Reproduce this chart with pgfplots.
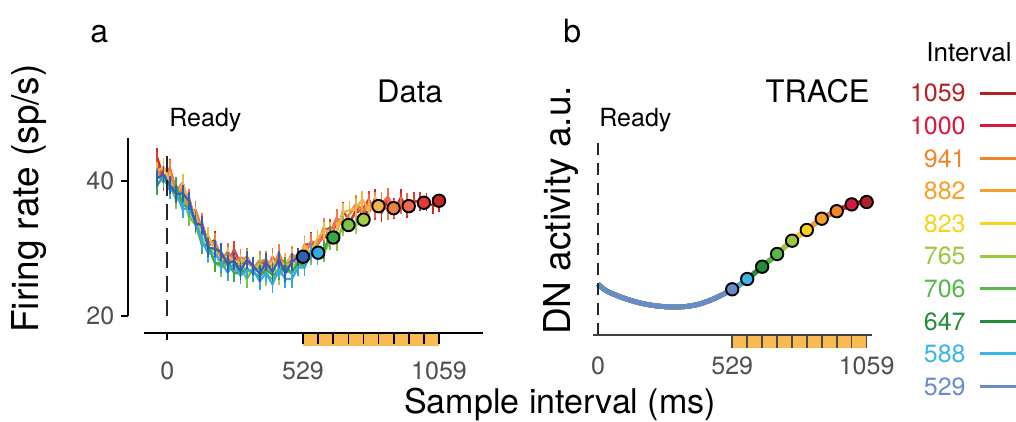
\documentclass[border=0pt]{standalone}
\usepackage{fontspec}
\setmainfont{TeX Gyre Heros}
\usepackage{pgfplots}
\usepackage{pgfplotstable}
\pgfplotsset{compat=1.18}

% legend / model palette
\definecolor{L1059}{HTML}{B52025}
\definecolor{L1000}{HTML}{D7193F}
\definecolor{L941}{HTML}{F0862A}
\definecolor{L882}{HTML}{F5A02A}
\definecolor{L823}{HTML}{F9D21C}
\definecolor{L765}{HTML}{9BC83E}
\definecolor{L706}{HTML}{55B848}
\definecolor{L647}{HTML}{238B3A}
\definecolor{L588}{HTML}{3BB4E8}
\definecolor{L529}{HTML}{6A8BC7}
% data panel palette
\definecolor{A1059}{HTML}{C62828}
\definecolor{A1000}{HTML}{E53935}
\definecolor{A941}{HTML}{F26A4B}
\definecolor{A882}{HTML}{F07F45}
\definecolor{A823}{HTML}{F2B54A}
\definecolor{A765}{HTML}{A6CD48}
\definecolor{A706}{HTML}{7CC243}
\definecolor{A647}{HTML}{3AA845}
\definecolor{A588}{HTML}{33A9E0}
\definecolor{A529}{HTML}{2F62B5}
\definecolor{barorange}{HTML}{F9BA52}
\definecolor{tickgray}{HTML}{505050}

\newcommand\tickfont{\fontsize{12.5}{14}\selectfont}

% firing rate per interval (sp/s), nan after the interval ends
\pgfplotstableread{
x    s1059 s1000 s941 s882 s823 s765 s706 s647 s588 s529
-40  43.6 43.0 41.0 41.3 41.5 40.6 39.8 39.3 40.6 40.4
-15  40.6 39.9 42.0 40.3 42.1 40.5 40.3 40.8 40.5 41.0
10   41.2 42.0 40.7 41.8 40.0 39.5 39.4 38.7 38.8 39.4
35   38.7 38.4 39.1 38.7 37.9 39.0 37.2 39.3 38.2 38.1
60   39.2 39.8 38.3 38.8 39.7 37.3 37.9 36.5 35.8 38.2
85   37.3 35.8 37.6 35.7 36.8 35.2 34.7 36.0 36.1 37.1
110  34.1 35.7 33.6 35.6 34.9 34.1 33.5 34.3 33.9 33.7
135  33.8 32.9 34.0 32.9 31.1 31.8 30.7 30.5 31.1 33.5
160  30.6 31.0 30.4 30.7 31.9 29.2 30.4 30.5 29.3 30.1
185  31.3 30.5 31.0 31.0 29.8 30.0 27.9 27.9 29.3 30.0
210  28.0 29.3 27.9 29.0 28.3 27.1 27.3 27.7 28.0 29.5
235  28.8 27.5 29.6 29.0 28.9 27.7 27.9 28.2 26.5 27.7
260  28.9 29.9 28.3 27.8 28.2 27.3 26.5 26.4 27.8 28.2
285  27.1 27.8 27.9 28.7 27.9 27.8 27.3 26.3 26.0 26.7
310  28.8 28.0 28.8 28.3 28.5 26.7 25.5 27.1 26.8 28.3
335  27.2 27.3 27.0 27.2 27.0 26.4 27.1 26.4 26.8 27.4
360  27.2 27.9 28.3 28.1 27.6 27.8 26.9 25.9 25.2 26.3
385  28.2 28.0 26.5 28.4 27.4 25.8 26.2 26.9 26.4 28.0
410  27.1 26.7 28.8 27.2 28.1 27.4 25.5 26.1 24.7 26.5
435  28.4 28.7 27.5 29.4 27.4 25.9 27.2 26.6 27.0 28.4
460  26.8 27.9 27.4 27.1 28.0 27.5 26.7 27.5 25.5 26.3
485  28.9 28.3 29.1 29.1 28.7 27.8 26.4 26.3 25.5 28.0
510  28.6 27.9 28.6 28.8 27.9 27.4 28.3 27.9 27.2 28.8
535  28.9 30.6 29.5 30.3 30.4 27.6 27.8 27.4 27.2 nan
560  31.1 30.7 31.0 30.4 29.4 29.4 28.9 29.6 29.5 nan
585  30.6 30.5 30.8 30.6 31.5 29.5 30.0 29.1 28.9 nan
610  31.9 32.7 31.8 33.2 32.6 29.6 29.3 29.7 nan  nan
635  31.3 33.1 32.4 31.7 32.7 31.9 31.1 32.0 nan  nan
660  34.0 32.4 34.6 34.3 32.6 31.5 31.0 nan  nan  nan
685  33.9 35.6 33.4 33.4 35.4 33.2 33.6 nan  nan  nan
710  33.7 34.1 35.1 35.1 35.7 34.4 nan  nan  nan  nan
735  35.7 35.3 36.5 36.6 36.0 33.4 nan  nan  nan  nan
760  35.7 35.8 35.0 35.9 37.3 34.6 nan  nan  nan  nan
785  35.3 37.3 36.8 36.0 35.7 nan  nan  nan  nan  nan
810  37.5 35.5 35.9 37.1 36.7 nan  nan  nan  nan  nan
835  35.3 36.6 36.7 37.1 nan  nan  nan  nan  nan  nan
860  37.1 37.2 37.7 35.5 nan  nan  nan  nan  nan  nan
885  35.7 36.2 35.9 nan  nan  nan  nan  nan  nan  nan
910  37.6 37.0 36.4 nan  nan  nan  nan  nan  nan  nan
935  35.8 36.1 36.9 nan  nan  nan  nan  nan  nan  nan
960  37.1 36.9 nan  nan  nan  nan  nan  nan  nan  nan
985  36.9 37.1 nan  nan  nan  nan  nan  nan  nan  nan
1010 36.9 nan  nan  nan  nan  nan  nan  nan  nan  nan
1035 36.4 nan  nan  nan  nan  nan  nan  nan  nan  nan
1060 36.7 nan  nan  nan  nan  nan  nan  nan  nan  nan
}\dataA

% model (TRACE) DN activity, arbitrary units
\pgfplotstableread{
x y
0 51
10 48.5
25 45.5
50 42
100 37
150 33
200 30.2
250 28.6
300 28.0
350 28.6
400 31
450 35.5
500 41.5
529 45.7
560 50.5
588 56
620 62.5
647 68.3
680 75.3
706 81
735 87.7
765 94.3
795 100
823 105
850 110.5
882 116.3
910 120.3
941 123.8
970 127.5
1000 130.6
1030 132.3
1059 133
}\dataB

\pgfplotsset{
  trace/.style={line width=1.1pt, mark=none,
    error bars/.cd, y dir=both, y fixed=1.3, error mark=none,
    error bar style={line width=0.9pt}},
  dot/.style={only marks, mark=*, mark size=3.1pt,
    mark options={draw=black, line width=0.95pt, fill=#1}},
  model/.style={color=#1, line width=2.4pt, smooth},
}

\begin{document}
\begin{tikzpicture}
\path[use as bounding box] (0,0) rectangle (508pt,211pt);

% ---------------- panel a: data ----------------
\begin{axis}[
  at={(64.15pt,44.5pt)}, anchor=south west,
  scale only axis, width=177.3pt, height=97.5pt,
  xmin=-152, xmax=1230, ymin=17.5, ymax=46.4,
  axis lines*=left, axis line style={draw=none},
  clip=false,
  xtick={0,529,1059}, xticklabels={0,529,1059},
  ytick={20,40}, yticklabels={20,40},
  tick align=outside, major tick length=3.5pt,
  tick style={black, line width=1pt},
  ticklabel style={font=\tickfont, text=tickgray},
  xticklabel style={yshift=-7.5pt},
  /pgf/number format/assume math mode=true,
]
\addplot[A1059, trace] table[x=x, y=s1059] {\dataA};
\addplot[A1000, trace] table[x=x, y=s1000] {\dataA};
\addplot[A941, trace] table[x=x, y=s941] {\dataA};
\addplot[A882, trace] table[x=x, y=s882] {\dataA};
\addplot[A823, trace] table[x=x, y=s823] {\dataA};
\addplot[A765, trace] table[x=x, y=s765] {\dataA};
\addplot[A706, trace] table[x=x, y=s706] {\dataA};
\addplot[A647, trace] table[x=x, y=s647] {\dataA};
\addplot[A588, trace] table[x=x, y=s588] {\dataA};
\addplot[A529, trace] table[x=x, y=s529] {\dataA};
% Ready marker
\addplot[black!85, line width=1pt, dash pattern=on 8pt off 4pt] coordinates {(0,20) (0,44.7)};
% axes (range frame)
\draw[line width=1pt] (axis cs:-90,17.5) -- (axis cs:1230,17.5);
\draw[line width=1pt] (axis cs:-152,20) -- (axis cs:-152,46.4);
% sample interval bar
\addplot[fill=barorange, draw=none] coordinates {(529,17.35) (1059,17.35) (1059,15.55) (529,15.55)} -- cycle;
\addplot[only marks, mark=|, mark size=2.75pt, mark options={black, line width=0.9pt}] coordinates {
  (529,16.68) (588,16.68) (647,16.68) (706,16.68) (765,16.68) (823,16.68) (882,16.68) (941,16.68) (1000,16.68) (1059,16.68)};
% end-of-interval dots
\addplot[dot=A529] coordinates {(529,28.8)};
\addplot[dot=A588] coordinates {(588,29.4)};
\addplot[dot=A647] coordinates {(647,31.65)};
\addplot[dot=A706] coordinates {(706,33.5)};
\addplot[dot=A765] coordinates {(765,34.3)};
\addplot[dot=A823] coordinates {(823,36.3)};
\addplot[dot=A882] coordinates {(882,36.0)};
\addplot[dot=A941] coordinates {(941,36.3)};
\addplot[dot=A1000] coordinates {(1000,36.8)};
\addplot[dot=A1059] coordinates {(1059,37.1)};
\end{axis}

% ---------------- panel b: TRACE model ----------------
\begin{axis}[
  at={(296.5pt,43.5pt)}, anchor=south west,
  scale only axis, width=139.35pt, height=100pt,
  xmin=-20, xmax=1079, ymin=0, ymax=200,
  axis lines*=left, axis line style={draw=none},
  clip=false,
  xtick={0,529,1059}, xticklabels={0,529,1059},
  ytick=\empty, major tick length=0pt,
  ticklabel style={font=\tickfont, text=tickgray},
  xticklabel style={yshift=-7.5pt},
  /pgf/number format/assume math mode=true,
]
\addplot[model=L1059, restrict x to domain=0:1059] table {\dataB};
\addplot[model=L1000, restrict x to domain=0:1000] table {\dataB};
\addplot[model=L941, restrict x to domain=0:941] table {\dataB};
\addplot[model=L882, restrict x to domain=0:882] table {\dataB};
\addplot[model=L823, restrict x to domain=0:823] table {\dataB};
\addplot[model=L765, restrict x to domain=0:765] table {\dataB};
\addplot[model=L706, restrict x to domain=0:706] table {\dataB};
\addplot[model=L647, restrict x to domain=0:647] table {\dataB};
\addplot[model=L588, restrict x to domain=0:588] table {\dataB};
\addplot[model=L529, restrict x to domain=0:529] table {\dataB};
\addplot[black!85, line width=1pt, dash pattern=on 6pt off 4pt] coordinates {(0,0) (0,193)};
\draw[black!75, line width=1pt] (axis cs:-20,0) -- (axis cs:1079,0);
\addplot[fill=barorange, draw=none] coordinates {(529,-1) (1059,-1) (1059,-13) (529,-13)} -- cycle;
\addplot[only marks, mark=|, mark size=3pt, mark options={black!70, line width=0.8pt}] coordinates {
  (529,-7) (588,-7) (647,-7) (706,-7) (765,-7) (823,-7) (882,-7) (941,-7) (1000,-7) (1059,-7)};
\addplot[dot=L529] coordinates {(529,45.7)};
\addplot[dot=L588] coordinates {(588,56)};
\addplot[dot=L647] coordinates {(647,68.3)};
\addplot[dot=L706] coordinates {(706,81)};
\addplot[dot=L765] coordinates {(765,94.3)};
\addplot[dot=L823] coordinates {(823,105)};
\addplot[dot=L882] coordinates {(882,116.3)};
\addplot[dot=L941] coordinates {(941,123.8)};
\addplot[dot=L1000] coordinates {(1000,130.6)};
\addplot[dot=L1059] coordinates {(1059,133)};
\end{axis}

% ---------------- texts ----------------
\node[anchor=base west, inner sep=0pt, font=\fontsize{16}{18}\selectfont] at (45pt,189.5pt) {a};
\node[anchor=base west, inner sep=0pt, font=\fontsize{16}{18}\selectfont] at (281.5pt,189.5pt) {b};
\node[anchor=base east, inner sep=0pt, font=\fontsize{15.5}{18}\selectfont] at (221.5pt,159.5pt) {Data};
\node[anchor=base east, inner sep=0pt, font=\fontsize{15.5}{18}\selectfont] at (435pt,159.5pt) {TRACE};
\node[anchor=base west, inner sep=0pt, font=\fontsize{12.5}{14}\selectfont] at (84.5pt,147.5pt) {Ready};
\node[anchor=base west, inner sep=0pt, font=\fontsize{12.5}{14}\selectfont] at (299.5pt,147.5pt) {Ready};
\node[rotate=90, anchor=base, inner sep=0pt, font=\fontsize{18.5}{20}\selectfont] at (19pt,111.75pt) {Firing rate (sp/s)};
\node[rotate=90, anchor=base, inner sep=0pt, font=\fontsize{18.5}{20}\selectfont] at (285pt,105.75pt) {DN activity a.u.};
\node[anchor=base, inner sep=0pt, font=\fontsize{17}{20}\selectfont] at (280pt,4pt) {Sample interval (ms)};

% ---------------- interval legend ----------------
\node[anchor=base, inner sep=0pt, font=\fontsize{13}{15}\selectfont] at (484.5pt,180pt) {Interval};
\begin{scope}[font=\fontsize{12.5}{14}\selectfont]
\node[anchor=east, inner sep=0pt, text=L1059] at (483pt,164.4pt) {1059};
\node[anchor=east, inner sep=0pt, text=L1000] at (483pt,148.1pt) {1000};
\node[anchor=east, inner sep=0pt, text=L941] at (483pt,131.8pt) {941};
\node[anchor=east, inner sep=0pt, text=L882] at (483pt,115.5pt) {882};
\node[anchor=east, inner sep=0pt, text=L823] at (483pt,99.2pt) {823};
\node[anchor=east, inner sep=0pt, text=L765] at (483pt,82.9pt) {765};
\node[anchor=east, inner sep=0pt, text=L706] at (483pt,66.6pt) {706};
\node[anchor=east, inner sep=0pt, text=L647] at (483pt,50.3pt) {647};
\node[anchor=east, inner sep=0pt, text=L588] at (483pt,34.0pt) {588};
\node[anchor=east, inner sep=0pt, text=L529] at (483pt,17.7pt) {529};
\end{scope}
\draw[L1059, line width=1.5pt] (490pt,164.4pt) -- (508pt,164.4pt);
\draw[L1000, line width=1.5pt] (490pt,148.1pt) -- (508pt,148.1pt);
\draw[L941, line width=1.5pt] (490pt,131.8pt) -- (508pt,131.8pt);
\draw[L882, line width=1.5pt] (490pt,115.5pt) -- (508pt,115.5pt);
\draw[L823, line width=1.5pt] (490pt,99.2pt) -- (508pt,99.2pt);
\draw[L765, line width=1.5pt] (490pt,82.9pt) -- (508pt,82.9pt);
\draw[L706, line width=1.5pt] (490pt,66.6pt) -- (508pt,66.6pt);
\draw[L647, line width=1.5pt] (490pt,50.3pt) -- (508pt,50.3pt);
\draw[L588, line width=1.5pt] (490pt,34.0pt) -- (508pt,34.0pt);
\draw[L529, line width=1.5pt] (490pt,17.7pt) -- (508pt,17.7pt);
\end{tikzpicture}
\end{document}
